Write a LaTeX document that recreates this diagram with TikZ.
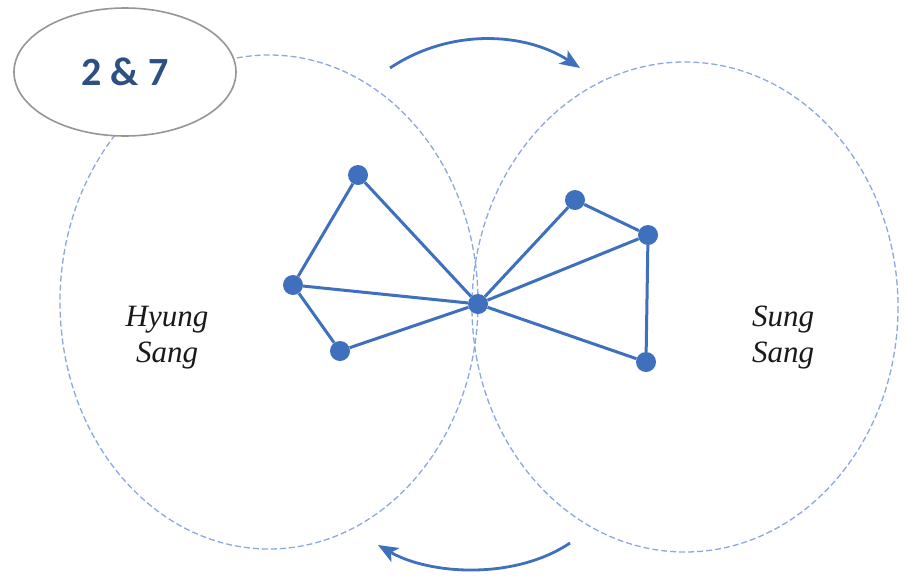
\documentclass[tikz,border=0pt]{standalone}
\usepackage{fontspec}
\newfontfamily\labelfont{Carlito}
\newfontfamily\sidefont{Liberation Serif}
\usetikzlibrary{arrows.meta,shapes.geometric}
\definecolor{dotblue}{RGB}{62,112,190}
\definecolor{ringblue}{RGB}{140,168,225}
\definecolor{labblue}{RGB}{45,80,130}
\definecolor{ringgrey}{RGB}{150,150,150}
\tikzset{
  dot/.style={circle,fill=dotblue,inner sep=0pt,minimum size=20pt},
  link/.style={draw=dotblue,line width=3pt},
  ring/.style={draw=ringblue,line width=1.3pt,dash pattern=on 6pt off 3pt},
  turn/.style={draw=dotblue,line width=2.8pt,-{Stealth[length=20pt,width=16pt,inset=5pt]}},
  side/.style={font=\sidefont\itshape\fontsize{31}{36}\selectfont,align=center,text=black!90}
}
\begin{document}
\begin{tikzpicture}[x=1pt,y=-1pt]
\useasboundingbox (0,0) rectangle (907,581);
\fill[white] (0,0) rectangle (907,581);
\draw[ring] (269,302) ellipse [x radius=209, y radius=247];
\draw[ring] (685,307) ellipse [x radius=213, y radius=245];
\node[ellipse,draw=ringgrey,line width=1.6pt,fill=white,minimum width=222pt,minimum height=128pt,inner sep=0pt,text=labblue,font=\labelfont\bfseries\fontsize{40}{40}\selectfont] (lab) at (125,72) {2 \& 7};
\node[side] (hs) at (167,338) {Hyung\\Sang};
\node[side] (ss) at (783,338) {Sung\\Sang};
\node[dot] (a) at (358,175) {};
\node[dot] (b) at (293,285) {};
\node[dot] (c) at (340,351) {};
\node[dot] (d) at (478,304) {};
\node[dot] (e) at (575,200) {};
\node[dot] (f) at (648,235) {};
\node[dot] (g) at (646,362) {};
\draw[link] (a)--(b) (a)--(d) (b)--(d) (b)--(c) (c)--(d) (d)--(e) (e)--(f) (d)--(f) (f)--(g) (d)--(g);
\coordinate (t1) at (390,68);
\coordinate (t2) at (580,68);
\coordinate (b1) at (570,543);
\coordinate (b2) at (378,545);
\draw[turn] (t1) .. controls (450,28) and (525,32) .. (t2);
\draw[turn] (b1) .. controls (515,580) and (430,575) .. (b2);
\end{tikzpicture}
\end{document}
